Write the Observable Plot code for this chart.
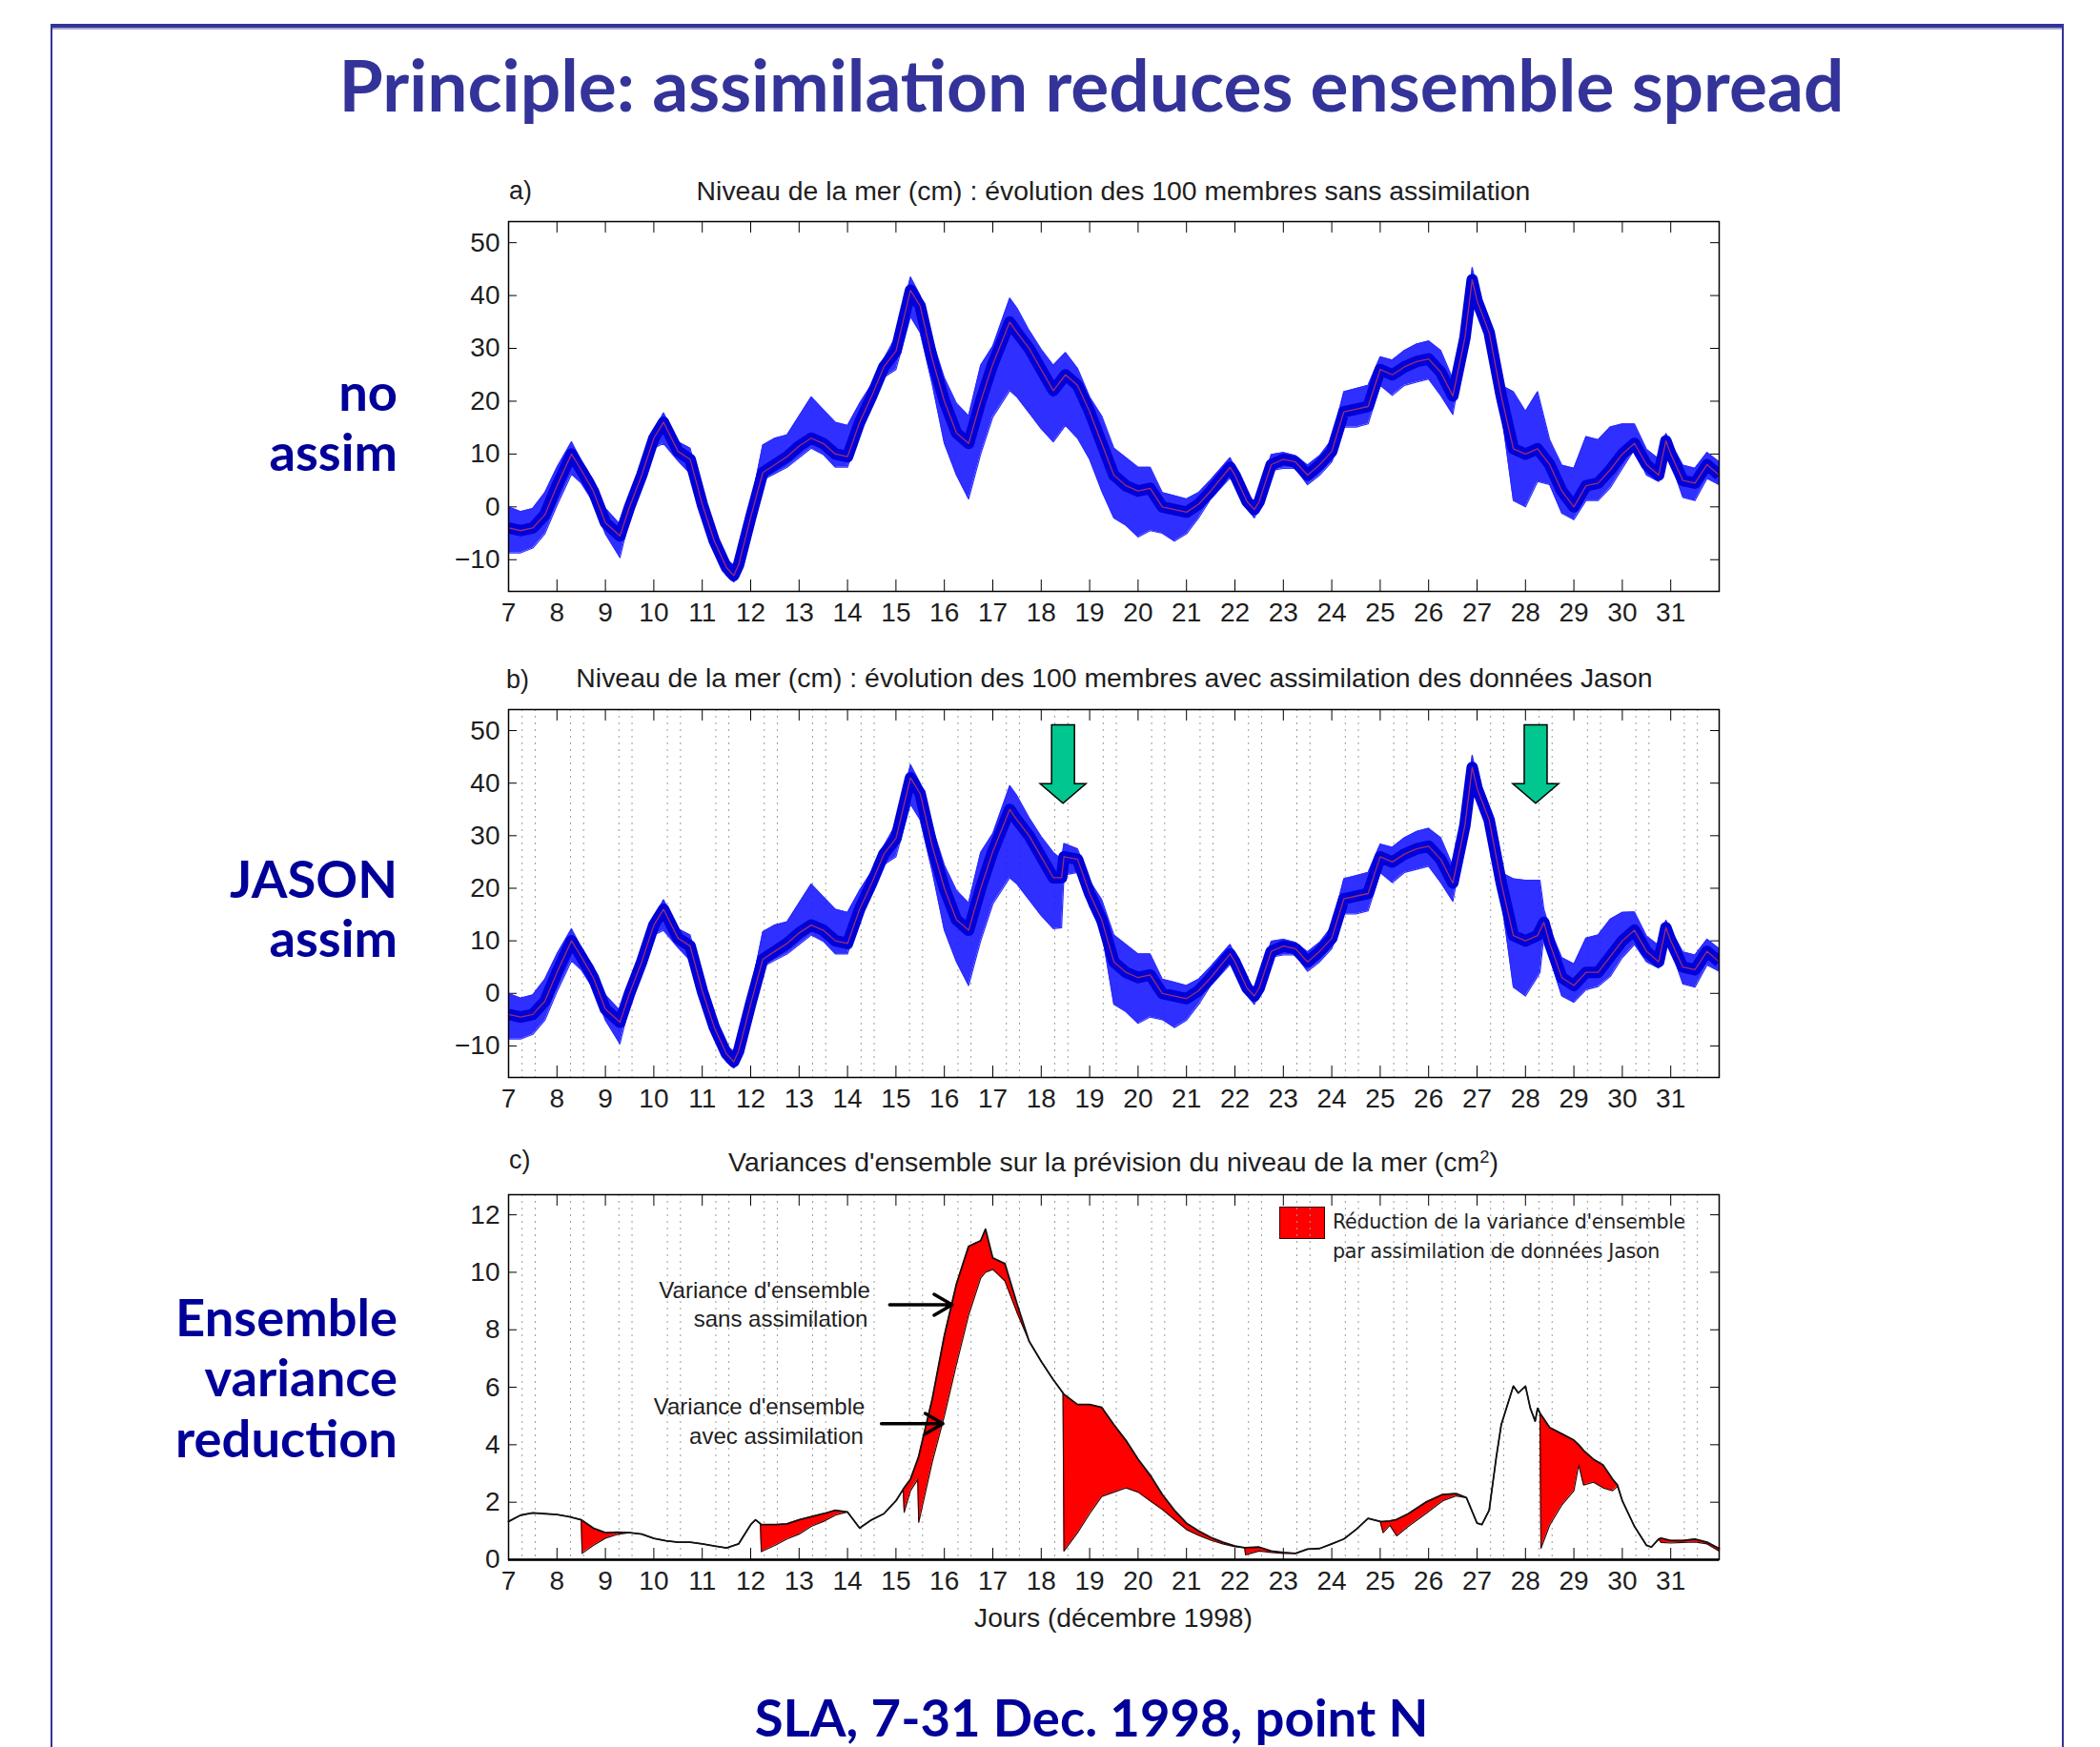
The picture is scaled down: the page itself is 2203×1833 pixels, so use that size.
<!DOCTYPE html>
<html><head><meta charset="utf-8">
<script src="https://cdn.jsdelivr.net/npm/d3@7"></script>
<script src="https://cdn.jsdelivr.net/npm/@observablehq/plot@0.6"></script>
<style>
body{margin:0;background:#fff;}
#page{position:relative;width:2203px;height:1833px;overflow:hidden;background:#fff;font-family:"Liberation Sans",Arial,sans-serif;}
.abs{position:absolute;white-space:nowrap;line-height:1;}
.c{transform:translate(-50%,-50%);}
.l{transform:translate(0,-50%);}
.r{transform:translate(-100%,-50%);}
.big{font-family:Lato,"Open Sans",sans-serif;font-weight:700;}
svg{position:absolute;overflow:visible;}
</style></head><body><div id="page"></div><script>
// ---------- data ----------
const xTicks = [7,8,9,10,11,12,13,14,15,16,17,18,19,20,21,22,23,24,25,26,27,28,29,30,31];
const yTicksSLA = [-10,0,10,20,30,40,50];
const yTicksVar = [0,2,4,6,8,10,12];

// Panel a: ensemble without assimilation (envelope + ensemble mean)
const aDays = [7,7.25,7.5,7.75, 8,8.3,8.5,8.75, 9,9.3,9.5,9.75, 10,10.2,10.5,10.75, 11,11.25,11.5,11.65,11.75,
  12,12.25,12.5,12.75, 13,13.25,13.5,13.75, 14,14.25,14.5,14.75, 15,15.3,15.5,15.75, 16,16.25,16.5,16.75,
  17,17.35,17.5,17.75, 18,18.25,18.5,18.75, 19,19.25,19.5,19.75, 20,20.25,20.5,20.75, 21,21.25,21.5,21.9,
  22,22.25,22.4,22.5,22.75, 23,23.25,23.5,23.75, 24,24.25,24.5,24.75, 25,25.25,25.5,25.75, 26,26.25,26.5,26.75,26.9,
  27,27.25,27.5,27.75, 28,28.25,28.5,28.75, 29,29.25,29.5,29.75, 30,30.25,30.5,30.75,30.9, 31,31.25,31.5,31.75, 32];
const aUpper = [0,-0.9,-0.3,2.7, 7.5,12.3,8.7,5.1, -0.3,-3.3,2.1,8.1, 14.2,17.8,12.3,11.1, 2.1,-5.1,-10,-11,-8.7,
  0.3,11.7,13,13.6, 17.2,20.8,18.4,16, 15.4,19.6,23.2,28, 32.2,43.5,40,31.6, 24.4,19.6,17.2,26.8,
  30.4,39.5,37.6,33.4, 29.8,26.8,29.2,26.2, 20.8,17.2,11.1,9.3, 7.5,7.5,2.7,2.1, 1.5,2.7,5.1,9.3,
  7.5,2.7,0.9,2.7,9.9, 10.3,9.7,7.9,9.7, 12.7,21.8,22.4,23, 28.4,27.8,29.6,30.8, 31.4,29.6,24.2,33.8,45.3,
  41,35,23,21.8, 18.1,21.8,12.7,7.9, 7.3,13.3,12.7,15.1, 15.7,15.7,10.9,9.1,13.9, 12.1,7.9,7.3,10.3, 8.5];
const aLower = [-8.7,-8.7,-7.8,-5.1, 0.3,6.2,4.5,0.9, -5.1,-9.6,-2.1,4.5, 11.1,12,8.7,6.3, -0.9,-8.1,-13,-14.2,-13,
  -5.1,5.1,6.3,7.5, 9.3,11.1,9.9,7.5, 7.5,14.5,19.5,24.5, 26,36,33,23.2, 12,6,1.5,10,
  17,22,20.8,17.8, 14.8,12.3,15.4,13, 9,3,-2.1,-3.5, -5.7,-4.5,-5,-6.5, -5.1,-2.1,1.5,5.5,
  4.5,-0.3,-2.1,-0.3,6.9, 7.3,7.3,4.2,6, 8.5,15.1,15.1,15.7, 23,21.1,23,23.6, 24.2,21.1,17.5,30,40,
  36.9,31.4,18.1,1.2, 0,4.8,4.2,-1.2, -2.4,1.2,1.2,3.6, 7.3,10.9,6,4.8,10.9, 8.5,1.8,1.2,5.4, 4.2];
const aMean = [-4,-4.5,-4,-1.5, 4,10,7,3, -3,-5.5,0,6, 13,16,10.5,9, 0.5,-6.5,-11.5,-13,-11,
  -2,6.5,8,9.5, 11.5,13,12,10, 9.5,16,21,26.5, 29.5,41,38,28, 20,14,12,20,
  27,35,33,30, 26,22,25,23, 18,12,6,4, 3,3.5,0,-0.5, -1,0.5,3,7.5,
  6,1,-0.5,1,8, 9,8.5,6,8, 10.5,18,18.5,19, 26,25,26.5,27.5, 28,25.5,21,32,43,
  39,33,21,11, 10,11,8,3, 0,4,4.5,7, 10,12,8,6,12.5, 10,5,4.5,8, 6];

// Panel b: ensemble with Jason assimilation
const bDays = [7,7.25,7.5,7.75, 8,8.3,8.5,8.75, 9,9.3,9.5,9.75, 10,10.2,10.5,10.75, 11,11.25,11.5,11.65,11.75,
  12,12.25,12.5,12.75, 13,13.25,13.5,13.75, 14,14.25,14.5,14.75, 15,15.3,15.5,15.75, 16,16.25,16.5,16.75,
  17,17.35,17.5,17.75, 18,18.25,18.42,18.47,18.75, 19,19.25,19.5,19.75, 20,20.25,20.5,20.75, 21,21.25,21.5,21.9,
  22,22.25,22.4,22.5,22.75, 23,23.25,23.5,23.75, 24,24.25,24.5,24.75, 25,25.25,25.5,25.75, 26,26.25,26.5,26.75,26.9,
  27,27.25,27.5,27.75, 28,28.25,28.3,28.38,28.5,28.75, 29,29.25,29.5,29.75, 30,30.25,30.5,30.75,30.9, 31,31.25,31.5,31.75, 32];
const bUpper = [0,-0.9,-0.3,2.7, 7.5,12.3,8.7,5.1, -0.3,-3.3,2.1,8.1, 14.2,17.8,12.3,11.1, 2.1,-5.1,-10,-11,-8.7,
  0.3,11.7,13,13.6, 17.2,20.8,18.4,16, 15.4,19.6,23.2,28, 32.2,43.5,40,31.6, 24.4,19.6,17.2,26.8,
  30.4,39.5,37.6,33.4, 29.8,26.8,25.5,28.5,27.5, 21.4,17.8,11.1,9.3, 7.5,7.5,2.7,2.1, 1.5,2.7,5.1,9.3,
  7.5,2.7,0.9,2.7,9.9, 10.3,9.7,7.9,9.7, 12.7,21.8,22.4,23, 28.4,27.8,29.6,30.8, 31.4,29.6,24.2,33.8,45.3,
  41,35,23,21.8, 21.5,21.5,21.5,16,12.3,6.8, 5.6,10.5,11.1,14.1, 15.4,15.5,10.9,9.1,13.9, 12.1,7.9,7.3,10.3, 8.5];
const bLower = [-8.7,-8.7,-7.8,-5.1, 0.3,6.2,4.5,0.9, -5.1,-9.6,-2.1,4.5, 11.1,12,8.7,6.3, -0.9,-8.1,-13,-14.2,-13,
  -5.1,5.1,6.3,7.5, 9.3,11.1,9.9,7.5, 7.5,14.5,19.5,24.5, 26,36,33,23.2, 12,6,1.5,10,
  17,22,20.8,17.8, 14.8,12.3,12.5,22.5,23, 16.5,11.7,-2.1,-3.5, -5.7,-4.5,-5,-6.5, -5.1,-2.1,1.5,5.5,
  4.5,-0.3,-2.1,-0.3,6.9, 7.3,7.3,4.2,6, 8.5,15.1,15.1,15.7, 23,21.1,23,23.6, 24.2,21.1,17.5,30,40,
  36.9,31.4,18.1,1.2, -0.5,3.2,4,11,6.8,-0.5, -1.7,0.7,1.3,3.2, 6.8,9.3,6,4.8,10.9, 8.5,1.8,1.2,5.4, 4.2];
const bMean = [-4,-4.5,-4,-1.5, 4,10,7,3, -3,-5.5,0,6, 13,16,10.5,9, 0.5,-6.5,-11.5,-13,-11,
  -2,6.5,8,9.5, 11.5,13,12,10, 9.5,16,21,26.5, 29.5,41,38,28, 20,14,12,20,
  27,35,33,30, 26,22,22,26,25.5, 19,14,6,4, 3,3.5,0,-0.5, -1,0.5,3,7.5,
  6,1,-0.5,1,8, 9,8.5,6,8, 10.5,18,18.5,19, 26,25,26.5,27.5, 28,25.5,21,32,43,
  39,33,21,11, 10,11,12,13.5,9.5,3, 1.5,4,4,7, 10,12,8,6,12.5, 10,5,4.5,8, 6];

// Jason assimilation markers (green arrows)
const arrowDays = [18.46, 28.22];
const arrowTop = [51, 51];
const arrowBase = [39.8, 39.8];
const arrowTip = [36.1, 36.1];

// Panel c: ensemble variance (cm^2)
const cDays = [7,7.25,7.5,7.75,8,8.25,8.5,8.52, 8.75,9,9.25,9.5,9.75, 10,10.25,10.5,10.75, 11,11.25,11.5,11.75,
  12,12.1,12.2,12.22,12.5,12.75, 13,13.25,13.5,13.75, 14,14.25,14.5,14.75, 15,15.15,15.17,15.3,15.45,15.47,15.75,
  16,16.25,16.5,16.75,16.85, 17,17.25,17.5,17.75, 18,18.25,18.45,18.47,18.75, 19,19.25,19.5,19.75, 20,20.25,20.5,20.75,
  21,21.25,21.5,21.75, 22,22.2,22.22,22.5,22.75, 23,23.25,23.5,23.75, 24,24.25,24.5,24.75, 25,25.06,25.2,25.34,25.58,25.94,
  26.29,26.57,26.78, 27,27.1,27.25,27.4,27.5,27.75,27.85, 28,28.1,28.2,28.25,28.3,28.32,28.5,28.75,
  29,29.1,29.2,29.4,29.6,29.8,29.9, 30,30.25,30.5,30.6,30.75,30.8, 31,31.25,31.5,31.75, 32];
const cSans = [1.33,1.55,1.63,1.6,1.57,1.5,1.39,1.37, 1.1,0.94,0.96,0.94,0.89, 0.74,0.66,0.61,0.61, 0.55,0.48,0.41,0.55,
  1.22,1.39,1.25,1.22,1.22,1.25, 1.39,1.5,1.6,1.72, 1.66,1.1,1.39,1.6, 2.05,2.45,2.5,2.8,3.5,3.6,5.6,
  7.8,9.6,10.9,11.1,11.5, 10.5,10.3,8.9,7.6, 6.9,6.26,5.8,5.75,5.4, 5.4,5.3,4.7,4.15, 3.5,2.94,2.27,1.72,
  1.27,1.0,0.78,0.61, 0.48,0.42,0.42,0.44,0.3, 0.25,0.22,0.37,0.39, 0.55,0.72,1.05,1.44, 1.33,1.33,1.35,1.4,1.6,2.0,
  2.27,2.3,2.16, 1.27,1.22,1.72,3.6,4.7,6.04,5.8, 6.04,5.27,4.82,5.27,5.1,5.05,4.6,4.38,
  4.16,4.0,3.8,3.5,3.3,2.8,2.6, 2.05,1.16,0.5,0.44,0.72,0.75, 0.67,0.67,0.72,0.61, 0.39];
const cAvec = [1.33,1.55,1.63,1.6,1.57,1.5,1.39,0.22, 0.5,0.75,0.88,0.94,0.89, 0.74,0.66,0.61,0.61, 0.55,0.48,0.41,0.55,
  1.22,1.39,1.25,0.28,0.5,0.72, 0.89,1.16,1.33,1.55, 1.66,1.1,1.39,1.6, 2.05,2.45,1.65,2.4,2.8,1.3,3.4,
  5.0,6.8,8.5,9.8,10.0, 10.1,9.7,8.6,7.6, 6.9,6.26,5.8,0.3,0.94, 1.6,2.2,2.35,2.5, 2.35,2.05,1.75,1.4,
  1.05,0.85,0.68,0.55, 0.45,0.42,0.17,0.3,0.25, 0.22,0.22,0.37,0.39, 0.55,0.72,1.05,1.44, 1.33,0.94,1.2,0.83,1.16,1.6,
  2.05,2.22,2.16, 1.27,1.22,1.72,3.6,4.7,6.04,5.8, 6.04,5.27,4.82,5.27,5.1,0.4,1.2,1.9,
  2.4,3.3,2.6,2.7,2.5,2.4,2.55, 2.05,1.16,0.5,0.44,0.72,0.6, 0.58,0.6,0.62,0.55, 0.3];

// Panel c callouts
const calloutLines = ["Variance d'ensemble", "sans assimilation", "Variance d'ensemble", "avec assimilation"];
const calloutX = [14.47, 14.42, 14.36, 14.33];
const calloutY = [9.35, 8.37, 5.3, 4.3];
const pointerX1 = [14.87, 14.70], pointerY1 = [8.87, 4.73];
const pointerX2 = [16.16, 15.97], pointerY2 = [8.87, 4.73];

// ---------- layout ----------
const page = document.getElementById("page");
function addText(html, x, y, cls, style) {
  const d = document.createElement("div");
  d.className = "abs " + cls;
  d.innerHTML = html;
  d.style.left = x + "px"; d.style.top = y + "px";
  Object.assign(d.style, style || {});
  page.appendChild(d);
  return d;
}
function fitWidth(el, target) {
  const w = el.getBoundingClientRect().width;
  const fs = parseFloat(el.style.fontSize);
  el.style.fontSize = (fs * target / w) + "px";
}
// slide frame
const frame = document.createElement("div");
Object.assign(frame.style, {position:"absolute", left:"53px", top:"25px", width:"2108px", height:"1900px",
  borderLeft:"2px solid #333399", borderRight:"2px solid #333399", borderTop:"4px solid #333399"});
page.appendChild(frame);
const frame2 = document.createElement("div");
Object.assign(frame2.style, {position:"absolute", left:"55px", top:"29px", width:"2108px", height:"2px", background:"#a6a6d2"});
page.appendChild(frame2);

const title = addText("Principle: assimilation reduces ensemble spread", 1145, 88, "c big", {fontSize:"66px", color:"#333399"});
fitWidth(title, 1579);

const sideStyle = {fontSize:"56px", color:"#000099"};
const ens = addText("Ensemble", 417, 1381, "r big", sideStyle);
fitWidth(ens, 233);
const sideFS = ens.style.fontSize;
[["no",410],["assim",473],["JASON",921],["assim",983],["variance",1444],["reduction",1508]].forEach(([t,y]) =>
  addText(t, 417, y, "r big", {fontSize: sideFS, color:"#000099"}));

const cap = addText("SLA, 7-31 Dec. 1998, point N", 1145, 1801, "c big", {fontSize:"50px", color:"#000099"});
fitWidth(cap, 707);

// panel titles
const ptStyle = () => ({fontSize:"27px", color:"#1e1e1e"});
addText("a)", 534, 200, "l", ptStyle());
fitWidth(addText("Niveau de la mer (cm) : évolution des 100 membres sans assimilation", 1168, 200, "c", ptStyle()), 875);
addText("b)", 531, 713, "l", ptStyle());
fitWidth(addText("Niveau de la mer (cm) : évolution des 100 membres avec assimilation des données Jason", 1169, 711, "c", ptStyle()), 1130);
addText("c)", 534, 1217, "l", ptStyle());
fitWidth(addText("Variances d'ensemble sur la prévision du niveau de la mer (cm<sup style='font-size:0.65em;vertical-align:0.5em'>2</sup>)", 1168, 1219, "c", ptStyle()), 808);
fitWidth(addText("Jours (décembre 1998)", 1168, 1697, "c", ptStyle()), 292);

// legend panel c
const sw = document.createElement("div");
Object.assign(sw.style, {position:"absolute", left:"1342px", top:"1266px", width:"46px", height:"32px", background:"#ff0000", border:"1.5px solid #3a0000"});
page.appendChild(sw);
const lgStyle = () => ({fontSize:"20px", color:"#222", fontFamily:"'DejaVu Sans', sans-serif", letterSpacing:"-0.3px"});
fitWidth(addText("Réduction de la variance d'ensemble", 1398, 1282, "l", lgStyle()), 370);
fitWidth(addText("par assimilation de données Jason", 1398, 1313, "l", lgStyle()), 343);

// ---------- plots ----------
const W = 1400, ML = 80, MR = 50, MT = 10, MB = 50;
const gridDays = [];
xTicks.forEach(d => { gridDays.push(d + 0.28, d + 0.55); });

function boxMarks(plotH, yTicks, grid) {
  const plotW = W - ML - MR;
  const m = [];
  if (grid) m.push(Plot.ruleX(gridDays, {stroke:"#9a9a9a", strokeWidth:1, strokeDasharray:"2,5"}));
  m.push(
    Plot.ruleX(xTicks, {insetTop: plotH - 12, stroke:"#000", strokeWidth:1}),
    Plot.ruleX(xTicks, {insetBottom: plotH - 12, stroke:"#000", strokeWidth:1}),
    Plot.ruleY(yTicks, {insetRight: plotW - 9, stroke:"#000", strokeWidth:1}),
    Plot.ruleY(yTicks, {insetLeft: plotW - 9, stroke:"#000", strokeWidth:1}),
    Plot.axisX(xTicks, {tickSize:0, tickPadding:12, fontSize:28, label:null, tickFormat: d => String(d)}),
    Plot.axisY(yTicks, {tickSize:0, tickPadding:9, fontSize:28, label:null})
  );
  return m;
}

function slaPlot(days, upper, lower, mean, top, plotH, grid, arrows) {
  const idx = d3.range(days.length);
  const marks = [
    ...boxMarks(plotH, yTicksSLA, grid),
    Plot.areaY(idx, {x: i => days[i], y1: i => lower[i], y2: i => upper[i], fill:"#1818ff", fillOpacity:0.9, curve:"linear", clip:true}),
    Plot.line(idx, {x: i => days[i], y: i => upper[i], stroke:"#2a2aff", strokeWidth:1.2, clip:true}),
    Plot.line(idx, {x: i => days[i], y: i => lower[i], stroke:"#2a2aff", strokeWidth:1.2, clip:true}),
    Plot.line(idx, {x: i => days[i], y: i => mean[i], stroke:"#0000d8", strokeWidth:12, strokeLinejoin:"round", strokeLinecap:"butt", clip:true}),
    Plot.line(idx, {x: i => days[i], y: i => mean[i], stroke:"#9e2f72", strokeWidth:1.3, clip:true})
  ];
  if (arrows) {
    marks.push((index, scales) => {
      const g = d3.create("svg:g");
      arrowDays.forEach((d, i) => {
        const cx = scales.x(d), yT = scales.y(arrowTop[i]), yB = scales.y(arrowBase[i]), yP = scales.y(arrowTip[i]);
        const s = 12, h = 24;
        g.append("path")
          .attr("d", `M${cx-s},${yT}L${cx+s},${yT}L${cx+s},${yB}L${cx+h},${yB}L${cx},${yP}L${cx-h},${yB}L${cx-s},${yB}Z`)
          .attr("fill", "#00c68f").attr("stroke", "#000").attr("stroke-width", 1.5);
      });
      return g.node();
    });
  }
  marks.push(Plot.frame({stroke:"#000", strokeWidth:1.5}));
  const svg = Plot.plot({
    width: W, height: MT + plotH + MB, marginLeft: ML, marginRight: MR, marginTop: MT, marginBottom: MB,
    x: {domain: [7, 32]}, y: {domain: [-16, 54]},
    style: {fontFamily: "'Liberation Sans', Arial, sans-serif", color: "#1e1e1e", background: "transparent"},
    marks
  });
  svg.style.left = (533 - ML) + "px"; svg.style.top = (top - MT) + "px";
  page.appendChild(svg);
}

slaPlot(aDays, aUpper, aLower, aMean, 232, 388, false, false);
slaPlot(bDays, bUpper, bLower, bMean, 744, 386, true, true);

// panel c
{
  const idx = d3.range(cDays.length);
  const plotH = 383;
  const svg = Plot.plot({
    width: W, height: MT + plotH + MB, marginLeft: ML, marginRight: MR, marginTop: MT, marginBottom: MB,
    x: {domain: [7, 32]}, y: {domain: [0, 12.7]},
    style: {fontFamily: "'Liberation Sans', Arial, sans-serif", color: "#1e1e1e", background: "transparent"},
    marks: [
      ...boxMarks(plotH, yTicksVar, true),
      Plot.areaY(idx, {x: i => cDays[i], y1: i => cAvec[i], y2: i => cSans[i], fill:"#ff0000", curve:"linear"}),
      Plot.line(idx, {x: i => cDays[i], y: i => cAvec[i], stroke:"#3a0000", strokeWidth:1.2}),
      Plot.line(idx, {x: i => cDays[i], y: i => cSans[i], stroke:"#111", strokeWidth:1.8}),
      Plot.text(calloutLines, {x: (d, i) => calloutX[i], y: (d, i) => calloutY[i], text: d => d, textAnchor:"end", fontSize:24, fill:"#1e1e1e"}),
      Plot.arrow([0, 1], {x1: i => pointerX1[i], y1: i => pointerY1[i], x2: i => pointerX2[i], y2: i => pointerY2[i], stroke:"#000", strokeWidth:3.5, headLength:26, headAngle:60}),
      Plot.ruleY([0], {stroke:"#000", strokeWidth:2.5}),
      Plot.frame({stroke:"#000", strokeWidth:1.5})
    ]
  });
  svg.style.left = (533 - ML) + "px"; svg.style.top = (1253 - MT) + "px";
  page.appendChild(svg);
}
</script></body></html>
